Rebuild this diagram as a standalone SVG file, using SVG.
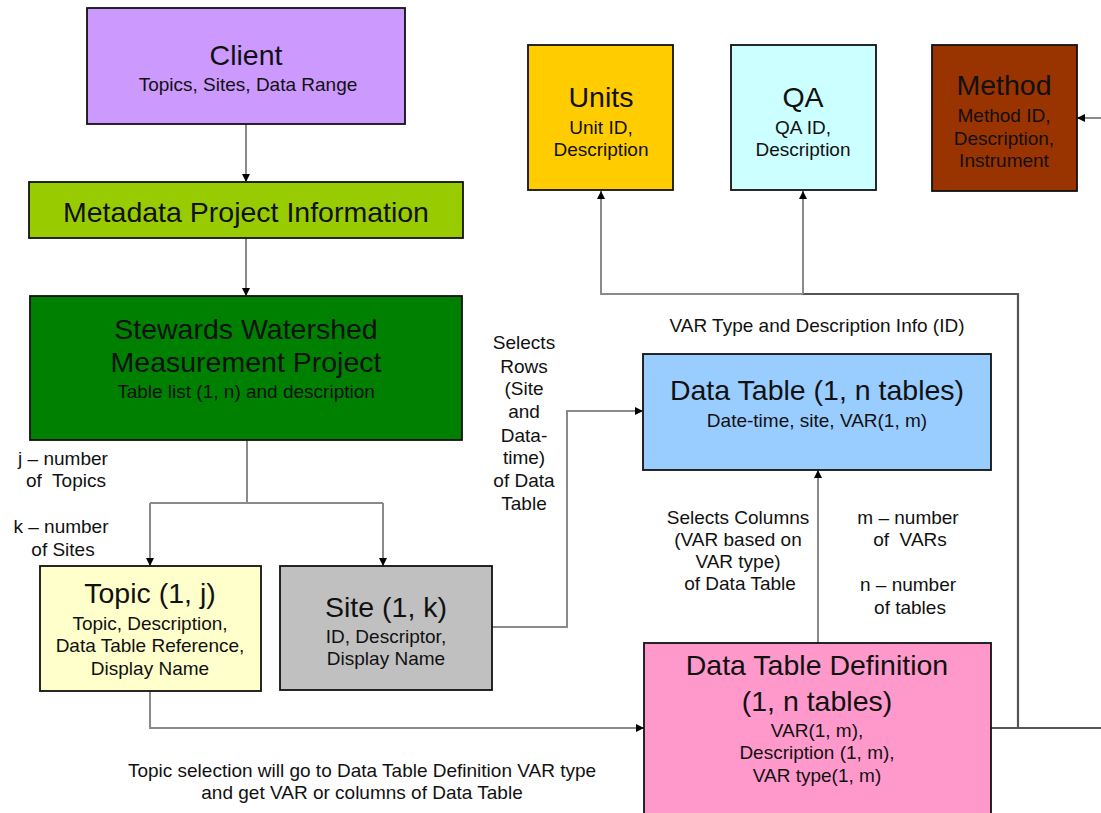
<svg xmlns="http://www.w3.org/2000/svg" width="1101" height="813" viewBox="0 0 1101 813">
<defs>
<marker id="ah" markerWidth="8" markerHeight="8" refX="8" refY="4" orient="auto" markerUnits="userSpaceOnUse">
<path d="M0,0 L8,4 L0,8 Z" fill="#000"/>
</marker>
<style>
.box{stroke:#111;stroke-width:1.8}
.t{font-family:"Liberation Sans",Arial,sans-serif;font-size:28.5px;fill:#111;text-anchor:middle}
.s{font-family:"Liberation Sans",Arial,sans-serif;font-size:19px;fill:#111;text-anchor:middle}
.c{fill:none;stroke:#8a8a8a;stroke-width:2}
.d{fill:none;stroke:#555;stroke-width:2.2}
</style>
</defs>
<rect width="1101" height="813" fill="#fff"/>
<g id="connectors">
<path class="c" d="M246,124 V182" marker-end="url(#ah)"/>
<path class="c" d="M246,238 V296" marker-end="url(#ah)"/>
<path class="c" d="M247,440 V503"/>
<path class="c" d="M150,503 H383"/>
<path class="c" d="M150,503 V566" marker-end="url(#ah)"/>
<path class="c" d="M383,503 V566" marker-end="url(#ah)"/>
<path class="c" d="M492,627 H567 V411 H643" marker-end="url(#ah)"/>
<path class="c" d="M150,691 V728 H644" marker-end="url(#ah)"/>
<path class="c" d="M818,643 V470" marker-end="url(#ah)"/>
<path class="d" d="M991,728 H1101"/>
<path class="d" d="M1018,728 V294 H803"/>
<path class="c" d="M803,294 H601 V191" marker-end="url(#ah)"/>
<path class="c" d="M803,294 V191" marker-end="url(#ah)"/>
<path class="c" d="M1101,118 H1077" marker-end="url(#ah)"/>
</g>
<g id="client">
<rect class="box" x="87" y="8" width="318" height="116" fill="#cc99ff"/>
<text class="t" x="246" y="65">Client</text>
<text class="s" x="248" y="91">Topics, Sites, Data Range</text>
</g>
<g id="metadata">
<rect class="box" x="29" y="182" width="434" height="56" fill="#99cc00"/>
<text class="t" x="246" y="222">Metadata Project Information</text>
</g>
<g id="stewards">
<rect class="box" x="30" y="296" width="432" height="144" fill="#008000"/>
<text class="t" x="246" y="339">Stewards Watershed</text>
<text class="t" x="246" y="372">Measurement Project</text>
<text class="s" x="246" y="398">Table list (1, n) and description</text>
</g>
<g id="topic">
<rect class="box" x="40" y="566" width="221" height="125" fill="#ffffcc"/>
<text class="t" x="150" y="603">Topic (1, j)</text>
<text class="s" x="150" y="630">Topic, Description,</text>
<text class="s" x="150" y="652">Data Table Reference,</text>
<text class="s" x="150" y="675">Display Name</text>
</g>
<g id="site">
<rect class="box" x="280" y="566" width="212" height="124" fill="#c0c0c0"/>
<text class="t" x="386" y="617">Site (1, k)</text>
<text class="s" x="386" y="643">ID, Descriptor,</text>
<text class="s" x="386" y="665">Display Name</text>
</g>
<g id="units">
<rect class="box" x="528" y="45" width="145" height="145" fill="#ffcc00"/>
<text class="t" x="601" y="107">Units</text>
<text class="s" x="601" y="134">Unit ID,</text>
<text class="s" x="601" y="156">Description</text>
</g>
<g id="qa">
<rect class="box" x="731" y="45" width="145" height="145" fill="#ccffff"/>
<text class="t" x="803" y="107">QA</text>
<text class="s" x="803" y="134">QA ID,</text>
<text class="s" x="803" y="156">Description</text>
</g>
<g id="method">
<rect class="box" x="932" y="45" width="145" height="146" fill="#993300"/>
<text class="t" x="1004" y="95">Method</text>
<text class="s" x="1004" y="122">Method ID,</text>
<text class="s" x="1004" y="145">Description,</text>
<text class="s" x="1004" y="167">Instrument</text>
</g>
<g id="datatable">
<rect class="box" x="643" y="354" width="348" height="116" fill="#99ccff"/>
<text class="t" x="817" y="400">Data Table (1, n tables)</text>
<text class="s" x="817" y="427">Date-time, site, VAR(1, m)</text>
</g>
<g id="datatabledef">
<rect class="box" x="644" y="643" width="347" height="190" fill="#ff99cc"/>
<text class="t" x="817" y="675">Data Table Definition</text>
<text class="t" x="817" y="711">(1, n tables)</text>
<text class="s" x="817" y="737">VAR(1, m),</text>
<text class="s" x="817" y="759">Description (1, m),</text>
<text class="s" x="817" y="782">VAR type(1, m)</text>
</g>
<g id="labels">
<text class="s" x="63" y="465">j – number</text>
<text class="s" x="66" y="487">of&#160; Topics</text>
<text class="s" x="61" y="533">k – number</text>
<text class="s" x="63" y="556">of Sites</text>
<text class="s" x="524" y="349">Selects</text>
<text class="s" x="524" y="373">Rows</text>
<text class="s" x="524" y="395">(Site</text>
<text class="s" x="524" y="418">and</text>
<text class="s" x="524" y="442">Data-</text>
<text class="s" x="524" y="464">time)</text>
<text class="s" x="524" y="487">of Data</text>
<text class="s" x="524" y="510">Table</text>
<text class="s" x="817" y="332">VAR Type and Description Info (ID)</text>
<text class="s" x="738" y="524">Selects Columns</text>
<text class="s" x="738" y="546">(VAR based on</text>
<text class="s" x="738" y="568">VAR type)</text>
<text class="s" x="740" y="590">of Data Table</text>
<text class="s" x="908" y="524">m – number</text>
<text class="s" x="910" y="546">of&#160; VARs</text>
<text class="s" x="908" y="591">n – number</text>
<text class="s" x="910" y="614">of tables</text>
<text class="s" x="362" y="777">Topic selection will go to Data Table Definition VAR type</text>
<text class="s" x="362" y="799">and get VAR or columns of Data Table</text>
</g>
</svg>
